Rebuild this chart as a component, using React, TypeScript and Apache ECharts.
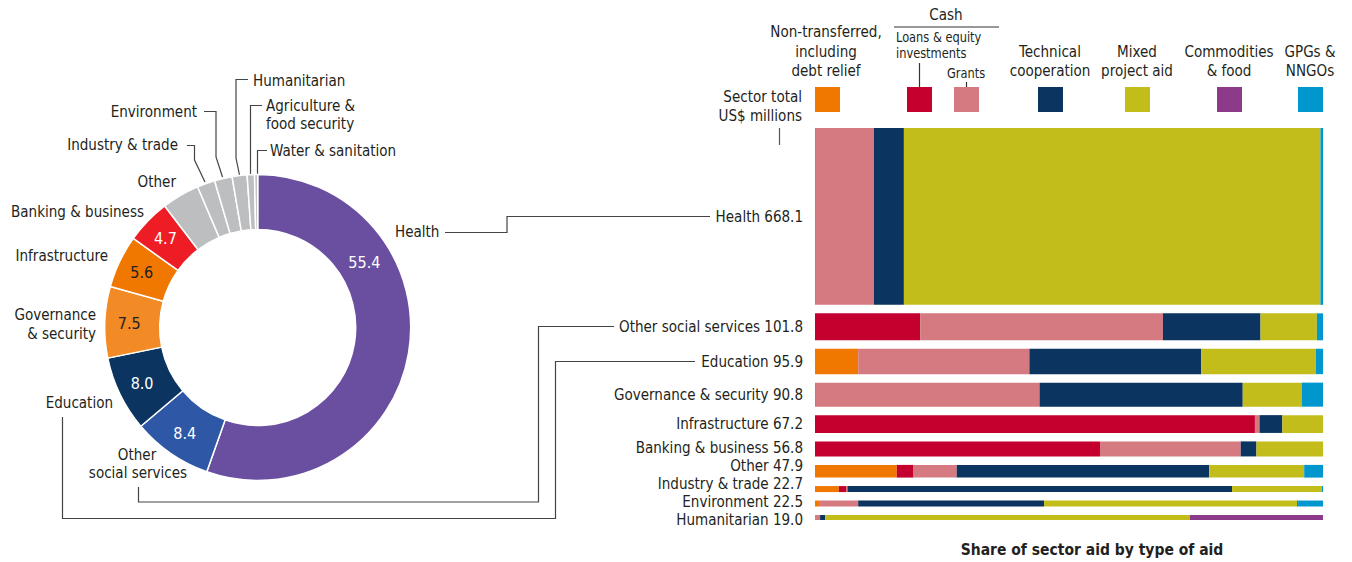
import React, { useEffect, useRef } from "react";
import * as echarts from "echarts";

// ---------------- DATA ----------------
const sectors = [
  "Health",
  "Other social services",
  "Education",
  "Governance & security",
  "Infrastructure",
  "Banking & business",
  "Other",
  "Industry & trade",
  "Environment",
  "Humanitarian",
];
// Sector total, US$ millions
const sectorTotals = [668.1, 101.8, 95.9, 90.8, 67.2, 56.8, 47.9, 22.7, 22.5, 19.0];

// Sectors only in the donut
const extraSectors = ["Agriculture & food security", "Water & sanitation"];
const extraTotals = [9.3, 4.0];

const aidTypes = [
  "Non-transferred, including debt relief",
  "Loans & equity investments",
  "Grants",
  "Technical cooperation",
  "Mixed project aid",
  "Commodities & food",
  "GPGs & NNGOs",
];
// Share of sector aid (%) by type of aid, one value per sector (same order as sectors)
const nonTransferred = [0.2, 0, 8.5, 0.2, 0, 0, 16.1, 4.7, 0.8, 0];
const loansEquity = [0, 20.7, 0, 0, 86.6, 56.1, 3.3, 1.4, 0, 0];
const grants = [11.4, 47.8, 33.7, 44.0, 0.9, 27.7, 8.5, 0.3, 7.7, 1.0];
const technicalCoop = [5.9, 19.2, 33.8, 40.0, 4.5, 3.1, 49.7, 75.7, 36.6, 1.0];
const mixedProjectAid = [82.0, 11.1, 22.6, 11.6, 8.0, 13.1, 18.7, 17.7, 49.8, 71.8];
const commoditiesFood = [0, 0, 0, 0, 0, 0, 0, 0, 0.2, 26.2];
const gpgsNngos = [0.5, 1.2, 1.4, 4.2, 0, 0, 3.7, 0.2, 4.9, 0];

const shareByType = [
  nonTransferred,
  loansEquity,
  grants,
  technicalCoop,
  mixedProjectAid,
  commoditiesFood,
  gpgsNngos,
];

// ---------------- STYLE ----------------
const typeColors = ["#F07800", "#C4002F", "#D47A80", "#0B3560", "#C3BD1B", "#8E3A8B", "#0096CE"];
const donutColors = [
  "#6A4FA0",
  "#2E57A5",
  "#0B3560",
  "#F28A25",
  "#F07800",
  "#EE1C25",
  "#BDBEC0",
  "#BDBEC0",
  "#BDBEC0",
  "#BDBEC0",
  "#BDBEC0",
  "#BDBEC0",
];
const donutLabelDark = [false, false, false, true, true, false];
const FONT = "'Liberation Sans Narrow', 'DejaVu Sans Condensed', Roboto, sans-serif";
const TXT = "#231F20";
const LINE = "#444";
const GAP = 32; // vertical gap between bars, in axis units
const SX = 0.94; // horizontal text condensing
const LABEL_STEP = 18; // min px spacing of bar labels

export default function App() {
  const ref = useRef<HTMLDivElement>(null);

  useEffect(() => {
    if (!ref.current) return;
    const chart = echarts.init(ref.current, undefined, { renderer: "svg" });

    // bar y-extent (in axis units)
    const yStart: number[] = [];
    let acc = 0;
    sectorTotals.forEach((t, i) => {
      yStart.push(acc);
      acc += t + (i < sectorTotals.length - 1 ? GAP : 0);
    });
    const yMax = acc;
    const yMid = sectorTotals.map((t, i) => yStart[i] + t / 2);

    const segData: number[][] = [];
    sectors.forEach((_, i) => {
      let x = 0;
      shareByType.forEach((arr, j) => {
        const v = arr[i];
        if (v > 0) {
          segData.push([x, x + v, yStart[i], yStart[i] + sectorTotals[i], j]);
          x += v;
        }
      });
    });
    const labelData = sectors.map((_, i) => [0, yMid[i], i]);

    const donutNames = sectors.concat(extraSectors);
    const donutValues = sectorTotals.concat(extraTotals);
    const donutSum = donutValues.reduce((a, b) => a + b, 0);

    const txt = (
      text: string,
      x: number,
      y: number,
      align: string = "left",
      size = 16,
      weight = "normal"
    ) => ({
      type: "text",
      x,
      y,
      scaleX: SX,
      silent: true,
      style: {
        text,
        fill: TXT,
        font: `${weight} ${size}px ${FONT}`,
        textAlign: align,
        textVerticalAlign: "middle",
      },
    });
    const pline = (pts: number[][], color = LINE) => ({
      type: "polyline",
      silent: true,
      shape: { points: pts },
      style: { stroke: color, lineWidth: 1.2, fill: "none" },
    });
    const sq = (x: number, color: string) => ({
      type: "rect",
      silent: true,
      shape: { x, y: 87, width: 25, height: 25 },
      style: { fill: color },
    });

    const graphics: any[] = [
      // legend header
      txt("Non-transferred,", 826, 32, "center"),
      txt("including", 826, 52, "center"),
      txt("debt relief", 826, 71, "center"),
      txt("Cash", 946, 15, "center"),
      pline([[894, 27], [999, 27]], "#333"),
      txt("Loans & equity", 896, 37, "left", 13.5),
      txt("investments", 896, 53, "left", 13.5),
      pline([[919.5, 63], [919.5, 87]], "#333"),
      txt("Grants", 966, 73, "center", 13.5),
      pline([[966.5, 82], [966.5, 87]], "#333"),
      txt("Technical", 1050, 52, "center"),
      txt("cooperation", 1050, 71, "center"),
      txt("Mixed", 1137, 52, "center"),
      txt("project aid", 1137, 71, "center"),
      txt("Commodities", 1229, 52, "center"),
      txt("& food", 1229, 71, "center"),
      txt("GPGs &", 1310, 52, "center"),
      txt("NNGOs", 1310, 71, "center"),
      sq(815, typeColors[0]),
      sq(907, typeColors[1]),
      sq(954, typeColors[2]),
      sq(1038, typeColors[3]),
      sq(1125, typeColors[4]),
      sq(1217, typeColors[5]),
      sq(1298, typeColors[6]),
      txt("Sector total", 802, 97, "right"),
      txt("US$ millions", 802, 116, "right"),
      pline([[779.5, 128], [779.5, 145]], "#555"),
      // title
      txt("Share of sector aid by type of aid", 1092, 549, "center", 16.5, "bold"),
      // donut outer labels
      txt("Humanitarian", 253, 81),
      pline([[248, 79.5], [236, 79.5], [236, 158], [239.5, 175]]),
      txt("Agriculture &", 266, 106),
      txt("food security", 266, 124),
      pline([[262, 105.5], [250.5, 105.5], [250.5, 174]]),
      txt("Water & sanitation", 270, 151),
      pline([[267, 150.5], [257.5, 150.5], [257.5, 174]]),
      txt("Environment", 197, 112, "right"),
      pline([[204, 111.5], [216, 111.5], [216, 157], [222.5, 177]]),
      txt("Industry & trade", 178, 145, "right"),
      pline([[187, 145.5], [194.5, 145.5], [194.5, 160], [205, 182]]),
      txt("Other", 176, 182, "right"),
      txt("Banking & business", 144, 212, "right"),
      txt("Infrastructure", 108, 256, "right"),
      txt("Governance", 96, 315, "right"),
      txt("& security", 96, 334, "right"),
      txt("Education", 113, 403, "right"),
      txt("Other", 137, 455, "center"),
      txt("social services", 138, 473, "center"),
      txt("Health", 395, 232),
      // connectors to bars
      pline([[445, 232.5], [507, 232.5], [507, 216.5], [710, 216.5]]),
      pline([[138.5, 487], [138.5, 502], [538.5, 502], [538.5, 326.5], [614, 326.5]]),
      pline([[62.5, 417], [62.5, 518.5], [555.5, 518.5], [555.5, 361.5], [695, 361.5]]),
    ];

    chart.setOption({
      animation: false,
      grid: { left: 815, top: 128, width: 508, height: 392 },
      xAxis: { type: "value", min: 0, max: 100, show: false },
      yAxis: { type: "value", min: 0, max: yMax, inverse: true, show: false },
      series: [
        {
          type: "pie",
          center: [257.7, 327.5],
          radius: [98, 153],
          startAngle: 90,
          clockwise: true,
          itemStyle: { borderColor: "#fff", borderWidth: 1.5 },
          label: {
            position: "inside",
            fontFamily: FONT,
            fontSize: 16,
            formatter: (p: any) =>
              p.dataIndex < 6 ? ((p.value / donutSum) * 100).toFixed(1) : "",
          },
          labelLayout: (p: any) => (p.dataIndex === 0 ? { dx: -20, dy: -87 } : {}),
          emphasis: { disabled: true },
          data: donutNames.map((n, i) => ({
            name: n,
            value: donutValues[i],
            itemStyle: { color: donutColors[i] },
            label: { color: donutLabelDark[i] ? TXT : "#fff" },
          })),
        },
        {
          type: "custom",
          coordinateSystem: "cartesian2d",
          silent: true,
          renderItem: (_params: any, api: any) => {
            const p0 = api.coord([api.value(0), api.value(2)]);
            const p1 = api.coord([api.value(1), api.value(3)]);
            return {
              type: "rect",
              shape: { x: p0[0], y: p0[1], width: p1[0] - p0[0], height: p1[1] - p0[1] },
              style: { fill: typeColors[api.value(4)] },
            };
          },
          data: segData,
        },
        {
          type: "custom",
          coordinateSystem: "cartesian2d",
          silent: true,
          renderItem: (_params: any, api: any) => {
            const i = api.value(2);
            // spread labels upward from the bottom so they do not overlap
            const ys = yMid.map((m) => api.coord([0, m])[1]);
            const pos = ys.slice();
            pos[pos.length - 1] = ys[ys.length - 1] + 2.5;
            for (let k = pos.length - 2; k >= 0; k--) {
              pos[k] = Math.min(ys[k], pos[k + 1] - LABEL_STEP);
            }
            const p = api.coord([api.value(0), api.value(1)]);
            return {
              type: "text",
              x: p[0] - 12,
              y: pos[i],
              scaleX: SX,
              style: {
                text: `${sectors[i]} ${sectorTotals[i].toFixed(1)}`,
                fill: TXT,
                font: `normal 16px ${FONT}`,
                textAlign: "right",
                textVerticalAlign: "middle",
              },
            };
          },
          data: labelData,
        },
      ],
      graphic: graphics,
    });

    return () => chart.dispose();
  }, []);

  return (
    <div
      ref={ref}
      style={{ position: "absolute", left: 0, top: 0, width: 1352, height: 562, background: "#fff" }}
    />
  );
}
